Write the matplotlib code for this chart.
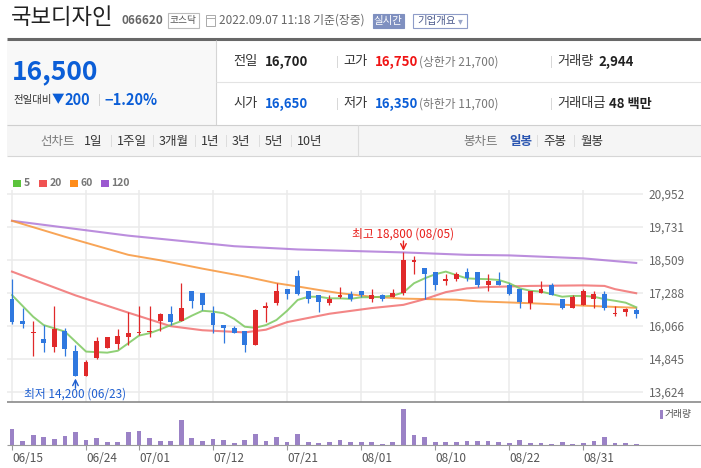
import matplotlib
matplotlib.use("Agg")
import matplotlib.pyplot as plt
import matplotlib.patches as mpatches
import pandas as pd

plt.rcParams['font.family'] = ['Noto Sans CJK KR', 'DejaVu Sans']

W, H = 701, 468

# trading days 06/15 .. 09/07 (08/15 is a holiday)
days = [d for d in pd.bdate_range('2022-06-15', '2022-09-07') if d != pd.Timestamp('2022-08-15')]
day_labels = [d.strftime('%m/%d') for d in days]
tick_labels = ['06/15', '06/24', '07/01', '07/12', '07/21', '08/01', '08/10', '08/22', '08/31']

opens = [17050, 16250, 15800, 15600, 15300, 15900, 15150, 14200, 14900, 15250,
         15400, 15650, 15800, 15850, 16250, 16500, 16250, 17350, 17300, 16550,
         16100, 16000, 15900, 15350, 16750, 16900, 17450, 17900, 17350, 17200,
         16900, 17150, 17250, 17350, 17050, 17200, 17150, 17300, 18450, 18200,
         18050, 17750, 17800, 18050, 18050, 17600, 17750, 17600, 17450, 16900,
         17300, 17600, 17050, 16750, 16850, 17050, 17250, 16500, 16600, 16650]
highs = [17800, 16750, 16250, 16100, 16800, 16000, 15350, 14800, 15650, 15650,
         15950, 16600, 16800, 16800, 16550, 16800, 17650, 17350, 17300, 16800,
         16100, 16050, 15900, 16700, 16950, 17650, 17450, 18150, 17350, 17200,
         17200, 17500, 17350, 17350, 17450, 17250, 17450, 18800, 18650, 18200,
         18050, 18000, 18050, 18200, 18050, 18000, 18050, 17650, 17450, 17350,
         17750, 17650, 17050, 17200, 17450, 17350, 17350, 16800, 16750, 16750]
lows = [16150, 16000, 14950, 15100, 15100, 14950, 14200, 14200, 14850, 15250,
        15200, 15350, 15750, 15650, 15900, 16100, 16250, 16750, 16650, 15800,
        15450, 15800, 15100, 15350, 16200, 16850, 17050, 17200, 16900, 16600,
        16850, 17100, 17000, 17150, 16950, 17000, 17150, 17200, 18000, 17050,
        17400, 17600, 17750, 17750, 17500, 17350, 17600, 17200, 16750, 16700,
        17300, 17200, 16700, 16750, 16850, 16750, 16650, 16450, 16450, 16350]
closes = [16200, 16150, 15850, 15450, 15950, 15200, 14200, 14750, 15500, 15650,
          15700, 15800, 15850, 15900, 16500, 16200, 16750, 17000, 16850, 16100,
          16000, 15800, 15350, 16650, 16800, 17350, 17250, 17250, 17050, 16950,
          17050, 17200, 17050, 17200, 17200, 17050, 17300, 18500, 18500, 18000,
          17600, 17800, 18000, 17850, 17600, 17750, 17600, 17250, 16950, 17350,
          17450, 17200, 16750, 17150, 17350, 17250, 16750, 16550, 16700, 16500]
volumes = [49000, 12000, 30000, 24000, 18000, 27000, 39000, 15000, 21000, 9000,
           9000, 39000, 42000, 21000, 12000, 12000, 75000, 21000, 12000, 18000,
           15000, 6000, 15000, 33000, 12000, 24000, 9000, 33000, 9000, 6000,
           9000, 15000, 9000, 9000, 9000, 3000, 9000, 108000, 30000, 24000,
           9000, 9000, 9000, 12000, 12000, 12000, 9000, 6000, 15000, 6000,
           6000, 3000, 9000, 3000, 6000, 12000, 24000, 6000, 6000, 2944]

ma5 = [17210, 16810, 16410, 16100, 15980, 15860, 15490, 15120, 15100, 15080,
       15150, 15430, 15710, 15800, 15940, 16100, 16250, 16450, 16630, 16600,
       16540, 16330, 16040, 16000, 16100, 16290, 16630, 17030, 17150, 17150,
       17090, 17090, 17070, 17130, 17130, 17150, 17190, 17310, 17650, 17830,
       17980, 18080, 17950, 17830, 17810, 17800, 17770, 17650, 17460, 17370,
       17340, 17250, 17150, 17180, 17180, 17150, 17060, 17000, 16930, 16760]
ma20_idx = [0, 6, 11, 15, 18, 22, 24, 26, 30, 34, 37, 39, 41, 43, 45, 49, 54, 56, 57, 59]
ma20 = [18080, 17200, 16560, 16060, 15910, 15830, 15930, 16210, 16520, 16730,
        16850, 17060, 17320, 17460, 17510, 17550, 17570, 17550, 17430, 17280]
ma60_idx = [0, 5, 11, 14, 18, 22, 25, 27, 29, 31, 34, 37, 42, 44, 49, 54, 59]
ma60 = [19960, 19370, 18700, 18500, 18190, 17900, 17650, 17530, 17400, 17280,
        17150, 17080, 17040, 16980, 16910, 16820, 16740]
ma120_idx = [0, 11, 21, 27, 37, 43, 47, 54, 59]
ma120 = [19960, 19410, 19020, 18900, 18790, 18700, 18680, 18570, 18400]

price_ticks = [20952, 19731, 18509, 17288, 16066, 14845, 13624]

RED = '#e0292a'
BLUE = '#2f78df'
GRID = '#ebebeb'

fig = plt.figure(figsize=(W / 100, H / 100), dpi=100)
fig.patch.set_facecolor('white')


def px_axes(x0, y0, x1, y1):
    return fig.add_axes([x0 / W, 1 - y1 / H, (x1 - x0) / W, (y1 - y0) / H])


step = 10.58  # pixels per trading day
xlim = (-(12 - 7) / step, (643 - 12) / step)
n = len(closes)
xs = list(range(n))
tick_idx = [day_labels.index(t) for t in tick_labels]

# ---- price panel
ax = px_axes(7, 190, 643, 402)
ax.set_xlim(*xlim)
ax.set_ylim(13254, 21100)
for s in ax.spines.values():
    s.set_visible(False)
for yv in price_ticks:
    ax.axhline(yv, color=GRID, lw=1.1, zorder=0)
for i in tick_idx:
    ax.axvline(i, color=GRID, lw=1.1, zorder=0)
ax.yaxis.tick_right()
ax.set_yticks(price_ticks)
ax.set_yticklabels([f'{v:,}' for v in price_ticks])
ax.tick_params(axis='y', length=0, pad=4, labelsize=8.5, labelcolor='#666')
ax.set_xticks([])

for i in xs:
    o, h, l, c = opens[i], highs[i], lows[i], closes[i]
    col = RED if c >= o else BLUE
    ax.vlines(i, l, h, color=col, lw=0.9, zorder=3)
    ax.bar(i, max(abs(c - o), 40), bottom=min(o, c), width=0.46, color=col,
           linewidth=0, zorder=4)

ax.plot(ma120_idx, ma120, color='#b07ad8', lw=1.5, alpha=0.85, zorder=2)
ax.plot(ma60_idx, ma60, color='#f7953a', lw=1.4, alpha=0.85, zorder=2)
ax.plot(ma20_idx, ma20, color='#f06868', lw=1.5, alpha=0.8, zorder=2)
ax.plot(xs, ma5, color='#7cc85e', lw=1.4, alpha=0.85, zorder=2)

# max / min markers
hi = highs.index(max(highs))
lo = lows.index(min(lows))
ax.annotate('', xy=(hi, highs[hi]), xycoords='data', xytext=(0, 8),
            textcoords='offset points',
            arrowprops=dict(arrowstyle='->', color='#e8201c', lw=1, shrinkA=0, shrinkB=1))
ax.annotate(f'최고 {highs[hi]:,} ({day_labels[hi]})', xy=(hi, highs[hi]), xytext=(0, 13),
            textcoords='offset points', ha='center', va='center', fontsize=8.5, color='#e8201c')
ax.annotate('', xy=(lo, lows[lo]), xycoords='data', xytext=(0, -8.5),
            textcoords='offset points',
            arrowprops=dict(arrowstyle='->', color='#1f5fd0', lw=1, shrinkA=0, shrinkB=1.5))
ax.annotate(f'최저 {lows[lo]:,} ({day_labels[lo]})', xy=(lo, lows[lo]), xytext=(0, -12.5),
            textcoords='offset points', ha='center', va='center', fontsize=8.5, color='#1f5fd0')

# ---- volume panel
vx = px_axes(7, 403, 643, 445)
vx.set_xlim(*xlim)
vx.set_ylim(0, max(volumes) * 42 / 36)
for s in vx.spines.values():
    s.set_visible(False)
vx.bar(xs, volumes, width=0.45, color='#9b82c6', linewidth=0)
vx.set_yticks([])
vx.set_xticks(tick_idx)
vx.set_xticklabels(tick_labels, ha='left')
vx.tick_params(axis='x', length=3.5, width=0.8, color='#999', pad=1.5,
               labelsize=8.5, labelcolor='#555')

# ---- page overlay in pixel coordinates
ov = fig.add_axes([0, 0, 1, 1])
ov.set_xlim(0, W)
ov.set_ylim(H, 0)
ov.axis('off')
ov.patch.set_alpha(0)


def t(x, y, s, size=9.0, color='#333', weight='normal', ha='left'):
    ov.text(x, y, s, fontsize=size, color=color, fontweight=weight, ha=ha, va='center')


def rect(x0, y0, x1, y1, fc='none', ec='none', lw=0.8):
    ov.add_patch(mpatches.Rectangle((x0, y0), x1 - x0, y1 - y0, facecolor=fc,
                                    edgecolor=ec, lw=lw))


def hline(y, x0, x1, color, lw=0.8):
    ov.plot([x0, x1], [y, y], color=color, lw=lw, solid_capstyle='butt')


def vline(x, y0, y1, color, lw=0.8):
    ov.plot([x, x], [y0, y1], color=color, lw=lw, solid_capstyle='butt')


# title line
t(11, 18, '국보디자인', size=16, color='#222')
t(121, 21, '066620', size=8.5, color='#666', weight='bold')
rect(168, 13, 199, 28, fc='white', ec='#bbbbbb')
t(183.5, 20.5, '코스닥', size=7, color='#555', ha='center')
rect(206, 15, 215, 26, fc='white', ec='#aaaaaa', lw=0.7)
hline(18, 206, 215, '#aaaaaa', lw=0.7)
t(219, 20.5, '2022.09.07 11:18 기준(장중)', size=8.5, color='#666')
rect(372.5, 14, 403.5, 28, fc='#7f90c0', ec='#7f90c0')
t(388, 21, '실시간', size=7.5, color='white', ha='center')
rect(413, 14, 467, 28, fc='white', ec='#8e9cc8')
t(417, 21, '기업개요', size=7.5, color='#4b5a8c')
t(458, 21.5, '▾', size=7, color='#9aa6c8')

hline(38.5, 7, 701, '#686868', lw=2.2)

# price box
rect(7, 40, 216, 125, fc='#f8f8f8')
vline(216, 40, 125, '#d5d5d5')
t(12, 72, '16,500', size=19, color='#0b5ed7', weight='bold')
t(13, 100, '전일대비', size=7.5, color='#333')
t(52, 100, '▼', size=9, color='#0b5ed7')
t(64, 100, '200', size=10.5, color='#0b5ed7', weight='bold')
t(98, 100, '|', size=8, color='#c8c8c8')
t(104, 100, '−1.20%', size=10.5, color='#0b5ed7', weight='bold')

row1, row2 = 62, 104
t(233, row1, '전일', size=9.5)
t(265, row1, '16,700', size=9.5, color='#222', weight='bold')
t(336, row1, '|', size=8, color='#cccccc')
t(343, row1, '고가', size=9.5)
t(375, row1, '16,750', size=9.5, color='#f01414', weight='bold')
t(419, row1, '(상한가 21,700)', size=8.5, color='#777')
t(550, row1, '|', size=8, color='#cccccc')
t(557, row1, '거래량', size=9.5)
t(598, row1, '2,944', size=9.5, color='#222', weight='bold')
hline(82, 216, 701, '#e3e3e3')
t(233, row2, '시가', size=9.5)
t(265, row2, '16,650', size=9.5, color='#0b5ed7', weight='bold')
t(336, row2, '|', size=8, color='#cccccc')
t(343, row2, '저가', size=9.5)
t(375, row2, '16,350', size=9.5, color='#0b5ed7', weight='bold')
t(419, row2, '(하한가 11,700)', size=8.5, color='#777')
t(550, row2, '|', size=8, color='#cccccc')
t(557, row2, '거래대금', size=9.5)
t(609, row2, '48 백만', size=9.5, color='#222', weight='bold')

# tab bar
rect(7, 125, 701, 156, fc='#f5f5f5')
hline(125, 7, 701, '#cfcfcf')
hline(156, 7, 701, '#d6d6d6')
vline(358, 125, 156, '#dcdcdc')
ty = 141
t(40, ty, '선차트', size=9, color='#777')
tabs = [('1일', 84), ('1주일', 117), ('3개월', 159), ('1년', 201), ('3년', 232), ('5년', 265), ('10년', 297)]
for k, (lab, x) in enumerate(tabs):
    t(x, ty, lab, size=9, color='#333')
    if k:
        t(x - 7.5, ty, '|', size=7.5, color='#d0d0d0')
t(463, ty, '봉차트', size=9, color='#777')
t(509, ty, '일봉', size=9, color='#2a55b0', weight='bold')
t(536, ty, '|', size=7.5, color='#d0d0d0')
t(543, ty, '주봉', size=9, color='#333')
t(573, ty, '|', size=7.5, color='#d0d0d0')
t(580, ty, '월봉', size=9, color='#333')

# MA legend
legend = [('5', '#5cc43c', 13), ('20', '#f05252', 39), ('60', '#ff8c1a', 70), ('120', '#9b59d0', 101)]
for lab, col, x in legend:
    rect(x, 180, x + 7.5, 187, fc=col)
    t(x + 10.5, 183.5, lab, size=7.5, color='#777', weight='bold')

# panel separators
hline(402, 7, 701, '#8a8a8a', lw=1.2)
hline(445, 7, 701, '#9a9a9a', lw=0.8)

# volume legend
rect(660, 410, 663, 419, fc='#9b82c6')
t(665, 414.5, '거래량', size=7, color='#555')

fig.savefig('out.png', dpi=100, facecolor='white')
